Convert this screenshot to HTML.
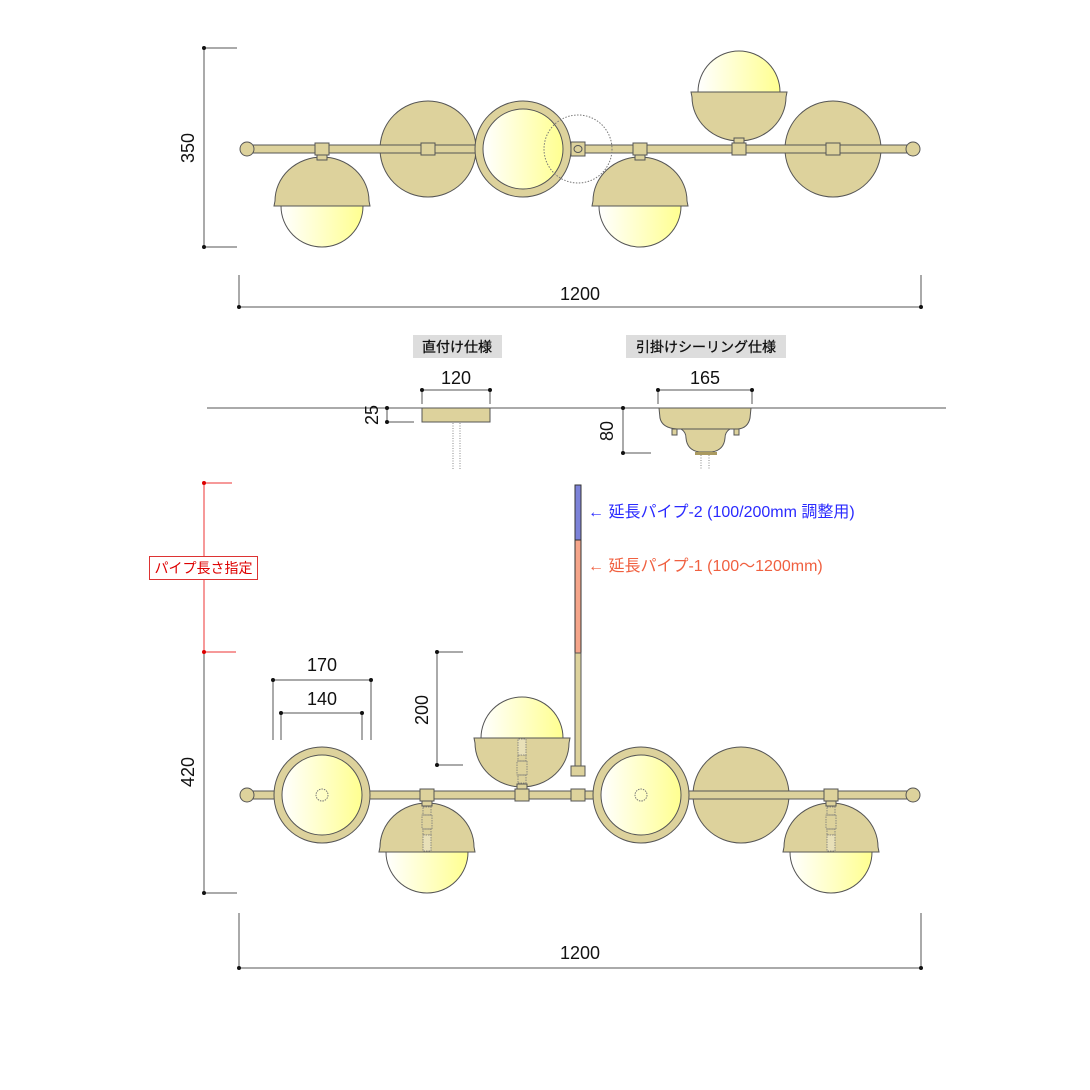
<!DOCTYPE html>
<html><head><meta charset="utf-8"><style>
html,body{margin:0;padding:0;background:#fff}
svg{display:block}
text{font-family:"Liberation Sans","Noto Sans CJK JP",sans-serif}
</style></head><body>
<svg width="1090" height="1090" viewBox="0 0 1090 1090" xmlns="http://www.w3.org/2000/svg">
<defs>
<linearGradient id="gl" x1="0" y1="0" x2="1" y2="0"><stop offset="0" stop-color="#ffffff"/><stop offset="1" stop-color="#ffff90"/></linearGradient>
<g id="lampD">
 <circle cx="0" cy="57" r="41" fill="url(#gl)" stroke="#555" stroke-width="1"/>
 <path d="M-48,57 L-47,52 A47,44 0 0 1 47,52 L48,57 Z" fill="#ddd29c" stroke="#555" stroke-width="1"/>
 <rect x="-5" y="5" width="10" height="6" fill="#ddd29c" stroke="#555" stroke-width="1"/>
 <rect x="-7" y="-6" width="14" height="12" fill="#ddd29c" stroke="#555" stroke-width="1"/>
</g>
<g id="cord">
 <rect x="-4" y="12" width="8" height="8" fill="none" stroke="#777" stroke-width="0.8" stroke-dasharray="1.5 1"/>
 <rect x="-5" y="20" width="10" height="14" fill="none" stroke="#777" stroke-width="0.8" stroke-dasharray="1.5 1"/>
 <rect x="-4" y="34" width="8" height="6" fill="none" stroke="#777" stroke-width="0.8" stroke-dasharray="1.5 1"/>
 <rect x="-4" y="40" width="8" height="16" fill="#e8e0b8" stroke="#777" stroke-width="0.8" stroke-dasharray="1.5 1"/>
</g>
<g id="disc"><circle r="48" fill="#ddd29c" stroke="#555" stroke-width="1"/></g>
<g id="ring"><circle r="48" fill="#ddd29c" stroke="#555" stroke-width="1"/><circle r="40" fill="url(#gl)" stroke="#555" stroke-width="1"/></g>
<g id="sq"><rect x="-7" y="-6" width="14" height="12" fill="#ddd29c" stroke="#555" stroke-width="1"/></g>
</defs>

<g stroke="#555" stroke-width="1" fill="none">
<line x1="204" y1="48" x2="204" y2="247"/><line x1="204" y1="48" x2="237" y2="48"/><line x1="204" y1="247" x2="237" y2="247"/>
<line x1="239" y1="307" x2="921" y2="307"/><line x1="239" y1="275" x2="239" y2="307"/><line x1="921" y1="275" x2="921" y2="307"/>
<line x1="207" y1="408" x2="946" y2="408"/>
<line x1="422" y1="390" x2="490" y2="390"/><line x1="422" y1="390" x2="422" y2="404"/><line x1="490" y1="390" x2="490" y2="404"/>
<line x1="387" y1="408" x2="387" y2="422"/><line x1="387" y1="422" x2="414" y2="422"/>
<line x1="658" y1="390" x2="752" y2="390"/><line x1="658" y1="390" x2="658" y2="404"/><line x1="752" y1="390" x2="752" y2="404"/>
<line x1="623" y1="408" x2="623" y2="453"/><line x1="623" y1="453" x2="651" y2="453"/>
<line x1="204" y1="652" x2="204" y2="893"/><line x1="204" y1="893" x2="237" y2="893"/>
<line x1="273" y1="680" x2="371" y2="680"/><line x1="273" y1="680" x2="273" y2="740"/><line x1="371" y1="680" x2="371" y2="740"/>
<line x1="281" y1="713" x2="362" y2="713"/><line x1="281" y1="713" x2="281" y2="740"/><line x1="362" y1="713" x2="362" y2="740"/>
<line x1="437" y1="652" x2="437" y2="765"/><line x1="437" y1="652" x2="463" y2="652"/><line x1="437" y1="765" x2="463" y2="765"/>
<line x1="239" y1="968" x2="921" y2="968"/><line x1="239" y1="913" x2="239" y2="968"/><line x1="921" y1="913" x2="921" y2="968"/>
</g>
<g fill="#111">
<circle cx="204" cy="48" r="2"/><circle cx="204" cy="247" r="2"/><circle cx="239" cy="307" r="2"/><circle cx="921" cy="307" r="2"/>
<circle cx="422" cy="390" r="2"/><circle cx="490" cy="390" r="2"/><circle cx="387" cy="408" r="2"/><circle cx="387" cy="422" r="2"/>
<circle cx="658" cy="390" r="2"/><circle cx="752" cy="390" r="2"/><circle cx="623" cy="408" r="2"/><circle cx="623" cy="453" r="2"/>
<circle cx="204" cy="893" r="2"/><circle cx="273" cy="680" r="2"/><circle cx="371" cy="680" r="2"/><circle cx="281" cy="713" r="2"/><circle cx="362" cy="713" r="2"/>
<circle cx="437" cy="652" r="2"/><circle cx="437" cy="765" r="2"/><circle cx="239" cy="968" r="2"/><circle cx="921" cy="968" r="2"/>
</g>
<g stroke="#e33" stroke-width="1"><line x1="204" y1="483" x2="204" y2="652"/><line x1="204" y1="483" x2="232" y2="483"/><line x1="204" y1="652" x2="236" y2="652"/></g>
<circle cx="204" cy="483" r="2" fill="#d00"/><circle cx="204" cy="652" r="2" fill="#d00"/>
<rect x="149.5" y="556.5" width="108" height="23" fill="#fff" stroke="#d33"/>
<text x="203.5" y="573" font-size="14" fill="#d00" text-anchor="middle">パイプ長さ指定</text>

<g font-size="18" fill="#111" text-anchor="middle">
<text transform="translate(194,148) rotate(-90)">350</text>
<text x="580" y="300">1200</text>
<text x="456" y="384">120</text>
<text x="705" y="384">165</text>
<text transform="translate(378,415) rotate(-90)">25</text>
<text transform="translate(613,431) rotate(-90)">80</text>
<text x="322" y="671">170</text>
<text x="322" y="705">140</text>
<text transform="translate(428,710) rotate(-90)">200</text>
<text transform="translate(194,772) rotate(-90)">420</text>
<text x="580" y="959">1200</text>
</g>
<rect x="413" y="335" width="89" height="23" fill="#ddd"/>
<text x="457" y="352" font-size="14" text-anchor="middle" fill="#111" stroke="#111" stroke-width="0.3">直付け仕様</text>
<rect x="626" y="335" width="160" height="23" fill="#ddd"/>
<text x="706" y="352" font-size="14" text-anchor="middle" fill="#111" stroke="#111" stroke-width="0.3">引掛けシーリング仕様</text>

<rect x="422" y="408" width="68" height="14" fill="#ddd29c" stroke="#555"/>
<g stroke="#888" stroke-dasharray="1 1.5"><line x1="453" y1="423" x2="453" y2="470"/><line x1="460" y1="423" x2="460" y2="470"/></g>
<path d="M659,408 L751,408 L750,418 Q748,428 738,429 L677,429 Q662,428 660,418 Z" fill="#ddd29c" stroke="#555"/>
<path d="M681,429 L730,429 Q725,432 725,438 Q724,450 712,452 L699,452 Q687,450 686,438 Q686,432 681,429 Z" fill="#ddd29c" stroke="#555"/>
<rect x="672" y="429" width="5" height="6" fill="#ddd29c" stroke="#555"/><rect x="734" y="429" width="5" height="6" fill="#ddd29c" stroke="#555"/>
<rect x="695" y="452" width="22" height="3" fill="#aa9a60"/>
<g stroke="#888" stroke-dasharray="1 1.5"><line x1="701" y1="455" x2="701" y2="470"/><line x1="709" y1="455" x2="709" y2="470"/></g>

<!-- TOP FIXTURE -->
<use href="#disc" x="428" y="149"/><use href="#disc" x="833" y="149"/>
<rect x="250" y="145" width="660" height="8" fill="#ddd29c" stroke="#555"/>
<use href="#ring" x="523" y="149"/>
<circle cx="247" cy="149" r="7" fill="#ddd29c" stroke="#555"/><circle cx="913" cy="149" r="7" fill="#ddd29c" stroke="#555"/>
<use href="#sq" x="428" y="149"/><use href="#sq" x="833" y="149"/>
<rect x="571" y="142" width="14" height="14" fill="#ddd29c" stroke="#555"/><ellipse cx="578" cy="149" rx="4" ry="3.5" fill="none" stroke="#555"/>
<circle cx="578" cy="149" r="34" fill="none" stroke="#777" stroke-dasharray="1.5 1.5"/>
<use href="#lampD" x="322" y="149"/>
<use href="#lampD" x="640" y="149"/>
<g transform="translate(739,149) scale(1,-1)"><use href="#lampD"/></g>

<!-- BOTTOM FIXTURE -->
<rect x="575" y="485" width="6" height="55" fill="#7c82d8" stroke="#333"/>
<rect x="575" y="540" width="6" height="113" fill="#f5a58a" stroke="#333"/>
<rect x="575" y="653" width="6" height="115" fill="#ddd29c" stroke="#555"/>
<text x="588" y="517" font-size="16" fill="#2a2aff">← 延長パイプ-2 (100/200mm 調整用)</text>
<text x="588" y="571" font-size="16" fill="#f06040">← 延長パイプ-1 (100～1200mm)</text>

<use href="#disc" x="741" y="795"/>
<rect x="250" y="791" width="660" height="8" fill="#ddd29c" stroke="#555"/>
<use href="#ring" x="322" y="795"/><use href="#ring" x="641" y="795"/>
<circle cx="322" cy="795" r="6" fill="none" stroke="#777" stroke-dasharray="1.5 1"/>
<circle cx="641" cy="795" r="6" fill="none" stroke="#777" stroke-dasharray="1.5 1"/>
<circle cx="247" cy="795" r="7" fill="#ddd29c" stroke="#555"/><circle cx="913" cy="795" r="7" fill="#ddd29c" stroke="#555"/>
<rect x="571" y="766" width="14" height="10" fill="#ddd29c" stroke="#555"/>
<use href="#sq" x="578" y="795"/>
<use href="#lampD" x="427" y="795"/><use href="#cord" x="427" y="795"/>
<use href="#lampD" x="831" y="795"/><use href="#cord" x="831" y="795"/>
<g transform="translate(522,795) scale(1,-1)"><use href="#lampD"/><use href="#cord"/></g>
</svg>
</body></html>
